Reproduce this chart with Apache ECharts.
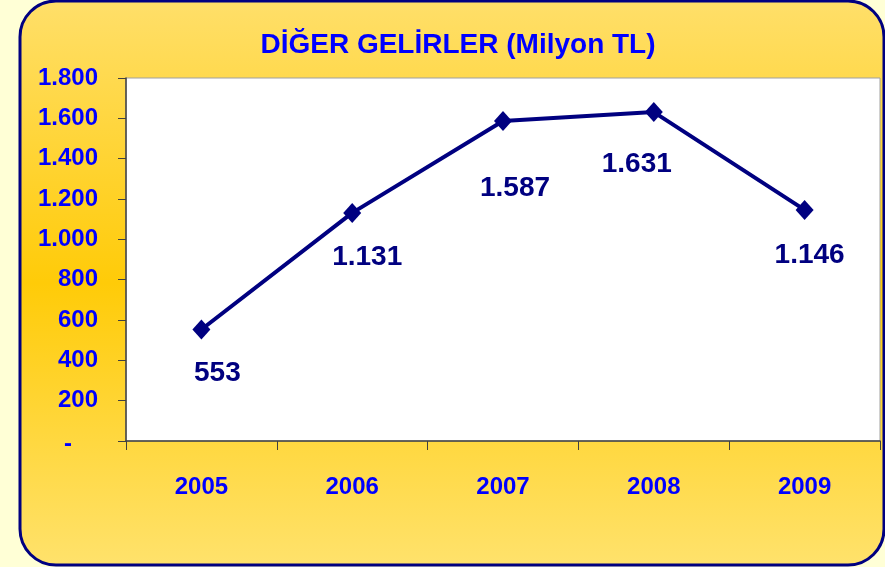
<!DOCTYPE html>
<html>
<head>
	<meta charset="utf-8">
	<title>DİĞER GELİRLER</title>
	<script src="https://cdn.jsdelivr.net/npm/echarts@6/dist/echarts.min.js"></script>
	<style type="text/css">
		html, body { margin: 0; padding: 0; background: #FFFFD6; }
		#chartContainer { width: 885px; height: 567px; }
	</style>
</head>
<body>
	<div id="chartContainer"></div>
	<script type="text/javascript">
		var years = ['2005', '2006', '2007', '2008', '2009'];
		var gelirler = [553, 1131, 1587, 1631, 1146];
		var yTicks = [0, 200, 400, 600, 800, 1000, 1200, 1400, 1600, 1800];
		// label nudges, as in the slide
		var labelShift = [[16, 0], [15, 0], [12, 23], [-17, 8], [5, 1]];

		var FONT = '"Liberation Sans", Arial, sans-serif';

		function trNum(v) {
			return String(v).replace(/\B(?=(\d{3})+(?!\d))/g, '.');
		}

		var myChart = echarts.init(document.getElementById('chartContainer'));
		var option = {
			backgroundColor: '#FFFFD6',
			animation: false,
			graphic: [{
				type: 'rect',
				z: -10,
				shape: { x: 20, y: 1, width: 864, height: 564, r: 36 },
				style: {
					fill: new echarts.graphic.LinearGradient(0, 0, 0, 1, [
						{ offset: 0, color: '#FFDF6A' },
						{ offset: 0.5, color: '#FFCB08' },
						{ offset: 1, color: '#FFE26C' }
					]),
					stroke: '#000080',
					lineWidth: 3
				}
			}],
			title: {
				text: 'DİĞER GELİRLER (Milyon TL)',
				left: 453,
				textAlign: 'center',
				top: 26,
				textStyle: { color: '#0000FF', fontFamily: FONT, fontWeight: 'bold', fontSize: 28 }
			},
			grid: {
				left: 126, top: 78, right: 5, bottom: 126,
				show: true, backgroundColor: '#FFFFFF', borderColor: '#A0A0A0', borderWidth: 1
			},
			xAxis: {
				type: 'category',
				data: years,
				boundaryGap: true,
				axisLine: { lineStyle: { color: '#404040', width: 1.5 } },
				axisTick: { show: true, length: 9, lineStyle: { color: '#404040' } },
				axisLabel: { color: '#0000FF', fontFamily: FONT, fontWeight: 'bold', fontSize: 24, margin: 34 }
			},
			yAxis: {
				type: 'value',
				min: yTicks[0],
				max: yTicks[yTicks.length - 1],
				interval: 200,
				splitLine: { show: false },
				axisLine: { show: true, lineStyle: { color: '#404040', width: 1.5 } },
				axisTick: { show: true, length: 8, lineStyle: { color: '#404040' } },
				axisLabel: {
					color: '#0000FF', fontFamily: FONT, fontWeight: 'bold', fontSize: 24, margin: 28,
					formatter: function (v) { return v === 0 ? '{d|-}' : trNum(v); },
					rich: { d: { color: '#0000FF', fontFamily: FONT, fontWeight: 'bold', fontSize: 24, padding: [6, 26, 0, 0] } }
				}
			},
			series: [{
				type: 'line',
				data: gelirler.map(function (v, i) {
					return { value: v, label: { offset: labelShift[i] } };
				}),
				symbol: 'diamond',
				symbolSize: [18, 20],
				lineStyle: { color: '#000080', width: 4 },
				itemStyle: { color: '#000080' },
				label: {
					show: true,
					position: 'bottom',
					distance: 20,
					color: '#000080',
					fontFamily: FONT,
					fontWeight: 'bold',
					fontSize: 28,
					formatter: function (p) { return trNum(p.value); }
				}
			}]
		};
		myChart.setOption(option);
	</script>
</body>
</html>
